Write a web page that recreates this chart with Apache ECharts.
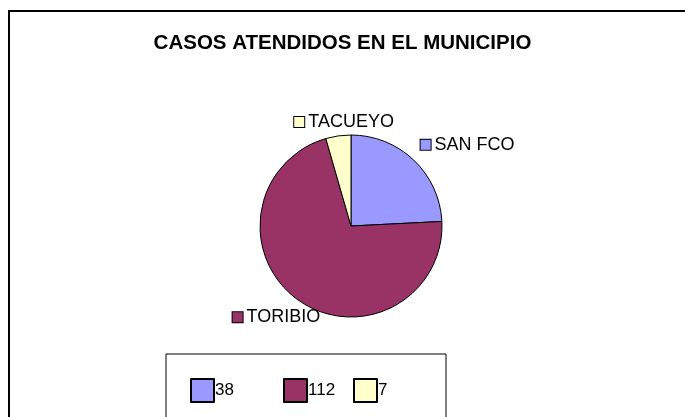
<!DOCTYPE html>
<html>
<head>
<meta charset="utf-8">
<script src="https://cdn.jsdelivr.net/npm/echarts@6/dist/echarts.min.js"></script>
<style>
  html, body { margin: 0; padding: 0; background: #fff; }
  #chart { width: 685px; height: 417px; }
</style>
</head>
<body>
<div id="chart"></div>
<script>
// Casos atendidos por localidad
const categories = ['SAN FCO', 'TORIBIO', 'TACUEYO'];
const values = [38, 112, 7];
const colors = ['#9999FF', '#993366', '#FFFFCC'];
const titleText = 'CASOS ATENDIDOS EN EL MUNICIPIO';

// small offsets applied to each outside label
const labelNudge = [[-5, -8], [33, 9], [62, -4]];
// legend column positions inside the bottom box
const legendCols = [190, 283, 353];

const FONT = '"Liberation Sans", Arial, sans-serif';

const chart = echarts.init(document.getElementById('chart'));

const pieData = categories.map((name, i) => ({
  name: name,
  value: values[i],
  itemStyle: { color: colors[i] },
  label: {
    rich: {
      sq: {
        width: 10, height: 10,
        backgroundColor: colors[i],
        borderColor: '#000', borderWidth: 1
      },
      t: { fontSize: 18, fontFamily: FONT, color: '#000', padding: [0, 0, 0, 4] }
    }
  }
}));

const legends = categories.map((name, i) => ({
  data: [name],
  left: legendCols[i],
  top: 378,
  padding: 0,
  itemWidth: 23,
  itemHeight: 23,
  itemGap: 0,
  selectedMode: false,
  icon: 'rect',
  formatter: n => String(values[categories.indexOf(n)]),
  textStyle: { fontSize: 17, fontFamily: FONT, color: '#000', padding: [0, 0, 0, -4] }
}));

chart.setOption({
  animation: false,
  backgroundColor: '#fff',
  title: {
    text: titleText,
    left: 'center',
    top: 28,
    textStyle: { fontSize: 20.5, fontWeight: 'bold', fontFamily: FONT, color: '#000' }
  },
  graphic: [
    {
      type: 'rect',
      shape: { x: 9, y: 11, width: 700, height: 420 },
      style: { fill: 'none', stroke: '#000', lineWidth: 2 },
      z: 0
    },
    {
      type: 'rect',
      shape: { x: 166, y: 354, width: 280, height: 80 },
      style: { fill: '#fff', stroke: '#000', lineWidth: 1 },
      z: 0
    }
  ],
  legend: legends,
  series: [{
    type: 'pie',
    center: [351, 226],
    radius: 91,
    startAngle: 90,
    clockwise: true,
    avoidLabelOverlap: false,
    itemStyle: { borderColor: '#000', borderWidth: 1 },
    emphasis: { disabled: true },
    label: {
      show: true,
      position: 'outside',
      formatter: p => '{sq|}{t|' + p.name + '}'
    },
    labelLine: { show: false, length: 10, length2: 0 },
    labelLayout: p => ({ dx: labelNudge[p.dataIndex][0], dy: labelNudge[p.dataIndex][1] }),
    data: pieData
  }]
});
</script>
</body>
</html>
